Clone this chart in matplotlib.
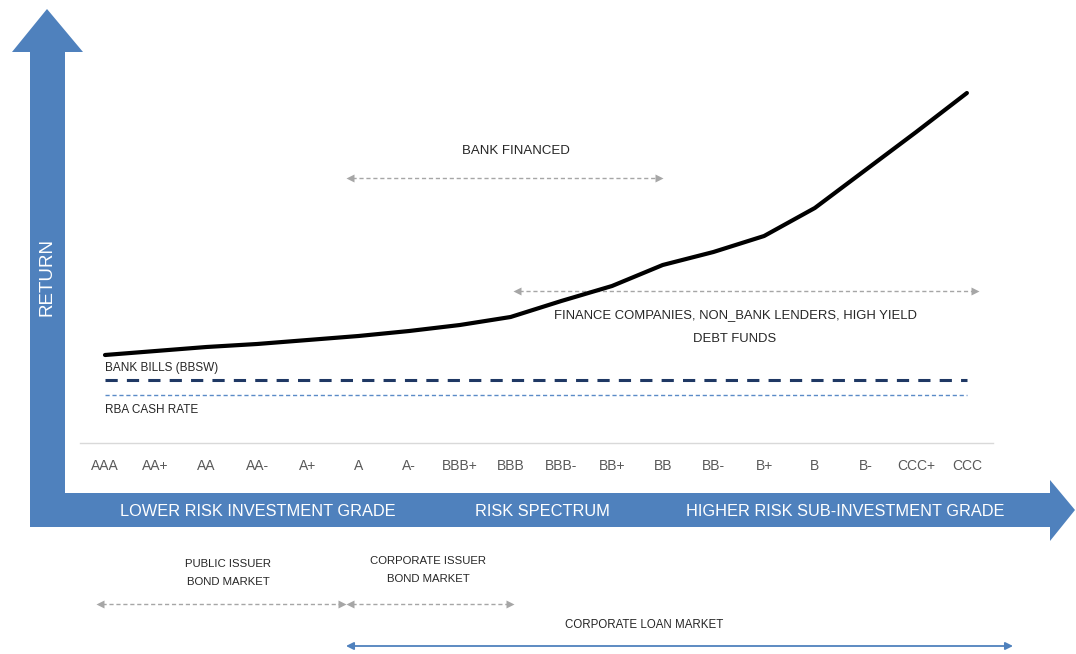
import matplotlib
matplotlib.use("Agg")
import matplotlib.pyplot as plt
from matplotlib.patches import Polygon

# ---- data ----
ratings = ["AAA", "AA+", "AA", "AA-", "A+", "A", "A-", "BBB+", "BBB", "BBB-",
           "BB+", "BB", "BB-", "B+", "B", "B-", "CCC+", "CCC"]
returns = [2.99, 3.03, 3.07, 3.10, 3.14, 3.18, 3.23, 3.29, 3.37, 3.53,
           3.68, 3.89, 4.02, 4.18, 4.46, 4.84, 5.22, 5.61]
bank_bills = 2.74
rba_cash = 2.59

FONT = ["Liberation Sans", "DejaVu Sans"]
BLUE = "#4f81bd"
GREY = "#a6a6a6"
TXT = "#262626"

W, H = 1076, 654
fig = plt.figure(figsize=(W / 100, H / 100), dpi=100)

# decoration layer in pixel coordinates
deco = fig.add_axes([0, 0, 1, 1])
deco.set_xlim(0, W); deco.set_ylim(H, 0)
deco.axis("off")

# big return arrow (vertical) and risk arrow (horizontal)
vert = Polygon([(30, 527), (30, 52), (12, 52), (47, 9), (83, 52), (65, 52), (65, 527)],
               closed=True, fc=BLUE, ec="none")
horiz = Polygon([(30, 493), (1050, 493), (1050, 480), (1075, 510), (1050, 541),
                 (1050, 527), (30, 527)], closed=True, fc=BLUE, ec="none")
deco.add_patch(horiz); deco.add_patch(vert)
deco.text(47, 277, "RETURN", rotation=90, color="white", fontsize=13.5,
          ha="center", va="center", family=FONT)
for x, s in [(258, "LOWER RISK INVESTMENT GRADE"), (542, "RISK SPECTRUM"),
             (845, "HIGHER RISK SUB-INVESTMENT GRADE")]:
    deco.text(x, 512, s, color="white", fontsize=11.8, ha="center", va="center", family=FONT)

# light grid line above the rating labels
deco.plot([80, 993], [443, 443], color="#d9d9d9", lw=1)


def dashed_span(x0, x1, y, color=GREY):
    deco.plot([x0 + 6, x1 - 6], [y, y], color=color, lw=1, ls=(0, (3, 2)))
    deco.plot([x0 + 4], [y], marker="<", color=color, ms=6, mec="none")
    deco.plot([x1 - 4], [y], marker=">", color=color, ms=6, mec="none")


dashed_span(346, 663, 178)
deco.text(516, 151, "BANK FINANCED", fontsize=9.5, ha="center", va="center",
          family=FONT, color=TXT)
dashed_span(513, 979, 291)
deco.text(735, 327, "FINANCE COMPANIES, NON_BANK LENDERS, HIGH YIELD\nDEBT FUNDS",
          fontsize=9.4, ha="center", va="center", family=FONT, color=TXT,
          linespacing=2.25)
dashed_span(96, 346, 604)
deco.text(228, 573, "PUBLIC ISSUER\nBOND MARKET", fontsize=8.2, ha="center", va="center",
          family=FONT, color=TXT, linespacing=2.1)
dashed_span(346, 514, 604)
deco.text(428, 570, "CORPORATE ISSUER\nBOND MARKET", fontsize=8.2, ha="center", va="center",
          family=FONT, color=TXT, linespacing=2.1)
deco.annotate("", xy=(346, 646), xytext=(1013, 646),
              arrowprops=dict(arrowstyle="<|-|>", color=BLUE, lw=1.3,
                              mutation_scale=11, shrinkA=0, shrinkB=0))
deco.text(644, 625, "CORPORATE LOAN MARKET", fontsize=8.3, ha="center", va="center",
          family=FONT, color=TXT)

# ---- data layer: category index on x, return on y ----
ax = fig.add_axes([0, 0, 1, 1])
ax.patch.set_alpha(0)
ax.axis("off")
step = 50.7
ax.set_xlim(-105 / step, (W - 105) / step)
ax.set_ylim(0, H / 100)
xs = list(range(len(ratings)))
ax.plot(xs, [bank_bills] * len(xs), color="#1f3864", lw=2.2, ls=(0, (4, 3)))
ax.plot(xs, [rba_cash] * len(xs), color="#5b8bc7", lw=1, ls=(0, (3, 2)))
ax.plot(xs, returns, color="black", lw=3, solid_capstyle="round")
ax.text(0, bank_bills + 0.12, "BANK BILLS (BBSW)", fontsize=8.5, va="center",
        family=FONT, color=TXT)
ax.text(0, rba_cash - 0.15, "RBA CASH RATE", fontsize=8.5, va="center",
        family=FONT, color=TXT)
tick_y = (H - 466) / H
for i, r in enumerate(ratings):
    ax.text(i, tick_y, r, transform=ax.get_xaxis_transform(), fontsize=10,
            ha="center", va="center", family=FONT, color="#595959")

fig.savefig("out.png", dpi=100)
